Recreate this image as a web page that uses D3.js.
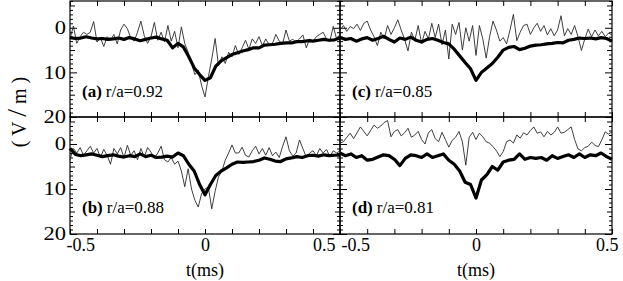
<!DOCTYPE html>
<html>
<head>
<meta charset="utf-8">
<script src="https://cdn.jsdelivr.net/npm/d3@7"></script>
<style>
  body { margin: 0; background: #fff; }
  svg text { font-family: "Liberation Serif", "Times New Roman", Times, serif; fill: #000; }
</style>
</head>
<body>
<svg id="chart" width="623" height="281"></svg>
<script>
// time grids (ms)
const tThick = d3.range(51).map(i => -0.5 + i * 0.02)
const tThin = d3.range(81).map(i => -0.5 + i * 0.0125)

// (a) r/a=0.92
const thickA = [2.2,2.4,2.3,2.0,2.3,2.5,2.4,2.6,2.5,2.3,2.6,2.2,2.5,2.9,2.6,2.3,2.1,2.5,
  2.8,4.5,3.5,4.3,6.5,9.0,10.5,11.8,
  11.2,8.6,7.4,6.7,6.0,5.6,5.2,4.9,4.5,4.5,3.9,3.8,3.7,3.5,3.4,3.4,3.1,3.1,2.9,3.0,2.8,2.6,2.8,2.7,2.3]
const thinA = [2.5,-0.4,3.5,2.0,1.0,1.5,1.0,-1.4,3.2,2.2,4.2,2.0,2.8,1.5,3.6,0.5,-0.8,0.2,2.3,3.0,
  1.0,-1.5,1.8,3.5,2.0,-1.2,2.8,1.0,3.2,-0.5,3.0,0.8,4.5,-0.2,3.5,5.5,8.0,10.5,9.5,13.0,
  15.5,11.0,7.0,2.4,8.5,6.5,8.0,5.5,6.5,4.0,6.0,4.5,2.8,4.8,2.5,3.5,2.0,4.0,2.5,3.8,
  3.5,1.5,3.0,3.6,0.5,3.0,2.6,3.2,2.5,1.6,4.5,2.5,3.0,2.0,1.5,1.0,2.5,3.0,-0.3,2.5,1.5]

// (b) r/a=0.88
const thickB = [1.0,2.3,2.6,2.4,2.2,2.5,2.8,2.6,2.4,2.7,2.9,2.6,2.8,2.2,2.8,2.5,3.0,2.9,
  2.7,2.9,2.0,2.6,4.5,6.0,9.0,11.3,
  9.0,7.0,6.0,5.3,4.5,4.0,4.1,4.0,3.9,3.6,3.1,3.4,3.8,3.9,3.3,3.1,2.8,3.0,2.6,2.5,2.7,2.4,2.6,2.5,2.5]
const thinB = [3.5,1.0,2.0,0.8,2.5,1.5,0.5,2.0,1.0,3.0,1.2,2.5,4.5,1.0,2.2,0.8,3.0,0.3,2.5,1.5,
  3.5,1.0,2.8,0.8,1.8,3.2,2.0,0.5,3.5,4.0,3.0,4.5,3.8,6.0,9.5,5.5,10.0,12.5,14.0,11.0,
  10.0,9.6,14.4,10.5,7.3,6.0,3.6,2.0,0.2,2.0,2.0,0.7,2.5,2.9,1.5,0.5,2.2,1.0,2.5,0.8,
  2.6,1.8,3.0,0.5,-1.6,1.5,2.7,2.0,-0.9,1.0,2.9,2.0,1.5,2.6,1.0,2.0,1.2,2.8,1.5,2.0,1.5]

// (c) r/a=0.85
const thickC = [2.2,2.6,2.4,3.0,2.5,2.2,2.8,2.4,1.9,2.6,3.2,2.3,2.6,2.1,2.8,3.2,2.6,2.4,
  2.8,3.3,3.6,4.8,6.3,7.8,9.2,11.8,
  10.0,9.0,8.0,6.6,5.0,4.4,4.2,4.9,4.6,4.1,3.9,3.8,3.6,3.5,3.3,3.4,2.8,2.6,2.3,2.4,2.3,2.5,2.2,2.4,3.0]
const thinC = [0.5,-0.5,0.8,-0.3,0.2,-0.8,0.6,-1.0,-1.5,0.5,2.0,4.0,1.0,2.5,-0.5,1.5,0.0,-1.8,0.5,2.6,
  5.2,1.0,2.8,-0.5,3.5,0.8,2.5,-1.0,2.2,-0.8,3.8,0.5,7.0,-0.8,1.5,-1.2,5.0,0.0,3.0,-0.5,
  6.2,-0.5,2.5,6.8,2.0,-1.5,0.5,3.0,2.2,3.6,0.5,-3.0,2.9,1.0,-0.5,-0.8,1.5,0.0,-1.0,0.8,
  -0.5,1.6,0.2,1.8,0.5,-2.7,1.8,0.2,1.5,-0.5,2.0,5.1,2.5,0.3,2.0,0.5,1.8,0.8,2.0,1.2,1.6]

// (d) r/a=0.81
const thickD = [2.0,2.6,2.2,3.0,2.6,3.6,3.4,2.9,2.4,2.6,3.4,4.8,3.2,2.4,2.6,3.0,2.2,3.0,
  2.6,2.2,3.6,4.5,6.0,8.5,9.0,12.0,
  8.0,6.8,5.0,5.8,4.0,3.6,3.4,2.2,3.4,3.0,3.2,3.0,3.6,2.6,3.2,2.8,2.4,3.0,2.2,3.0,2.4,2.6,2.0,2.8,3.4]
const thinD = [-0.2,-0.5,-1.5,-2.4,-1.2,-2.5,-3.8,-2.8,-1.8,-3.0,-4.2,-3.5,-4.0,-4.8,-5.2,-1.6,-2.8,-3.2,-1.8,-2.5,
  -3.5,-1.5,-2.0,-2.8,-1.0,0.0,-2.5,-3.2,-1.2,-0.5,-2.6,-1.0,0.7,-0.8,-1.5,-2.8,-0.5,4.7,-1.5,-2.6,
  -1.0,-2.4,-1.6,-0.5,-0.2,0.6,1.5,2.8,1.7,-0.5,-0.9,-0.2,-2.0,-1.3,-2.5,-2.0,-3.0,-3.8,-2.4,-2.7,
  -1.6,-2.8,-2.0,-2.6,-3.8,-2.4,-2.6,-3.2,-3.8,-1.0,1.1,1.5,0.8,0.5,-0.4,0.3,0.6,-0.9,-2.7,-2.2,-2.7]

const panelKeys = ["(a)", "(b)", "(c)", "(d)"]
const ratios = ["r/a=0.92", "r/a=0.88", "r/a=0.85", "r/a=0.81"]
const yLabels = [0, 10, 20]
const xLabels = [-0.5, 0, 0.5]

const serif = '"Liberation Serif", "Times New Roman", Times, serif'
const cols = [[70, 340], [340, 612]]
const rows = [[1, 117], [117, 234]]

const panels = [
  {key: panelKeys[0], ratio: ratios[0], thick: thickA, thin: thinA, col: 0, row: 0},
  {key: panelKeys[1], ratio: ratios[1], thick: thickB, thin: thinB, col: 0, row: 1},
  {key: panelKeys[2], ratio: ratios[2], thick: thickC, thin: thinC, col: 1, row: 0},
  {key: panelKeys[3], ratio: ratios[3], thick: thickD, thin: thinD, col: 1, row: 1}
]

const svg = d3.select("#chart")

// stretch text horizontally the way the reference looks
function widen(sel, k) {
  sel.each(function() {
    const w = this.getComputedTextLength()
    d3.select(this).attr("textLength", w * k).attr("lengthAdjust", "spacingAndGlyphs")
  })
}

const tickLen = d => d % 10 === 0 ? 7 : (d % 5 === 0 ? 5 : 3)

panels.forEach(p => {
  const [x0, x1] = cols[p.col]
  const [y0, y1] = rows[p.row]
  const x = d3.scaleLinear().domain([-0.5, 0.5]).range([x0, x1])
  const y = d3.scaleLinear().domain([-6, 20]).range([y0, y1])
  const g = svg.append("g")

  // inward ticks on all four sides
  const yTicks = d3.range(-6, 21)
  g.append("g").attr("transform", `translate(${x0},0)`)
    .call(d3.axisRight(y).tickValues(yTicks).tickFormat(""))
    .call(a => a.select(".domain").remove())
    .call(a => a.selectAll(".tick line").attr("x2", d => tickLen(d)))
  g.append("g").attr("transform", `translate(${x1},0)`)
    .call(d3.axisLeft(y).tickValues(yTicks).tickFormat(""))
    .call(a => a.select(".domain").remove())
    .call(a => a.selectAll(".tick line").attr("x2", d => -tickLen(d)))
  const xTicks = d3.range(-5, 6).map(d => d / 10)
  g.append("g").attr("transform", `translate(0,${y0})`)
    .call(d3.axisBottom(x).tickValues(xTicks).tickFormat("").tickSize(5))
    .call(a => a.select(".domain").remove())
  g.append("g").attr("transform", `translate(0,${y1})`)
    .call(d3.axisTop(x).tickValues(xTicks).tickFormat("").tickSize(5))
    .call(a => a.select(".domain").remove())

  g.append("rect")
    .attr("x", x0).attr("y", y0)
    .attr("width", x1 - x0).attr("height", y1 - y0)
    .attr("fill", "none").attr("stroke", "#000").attr("stroke-width", 1.2)

  const lineThin = d3.line().x((d, i) => x(tThin[i])).y(d => y(d))
  const lineThick = d3.line().x((d, i) => x(tThick[i])).y(d => y(d))

  g.append("path").datum(p.thin)
    .attr("d", lineThin)
    .attr("fill", "none").attr("stroke", "#2a2a2a").attr("stroke-width", 0.9)
  g.append("path").datum(p.thick)
    .attr("d", lineThick)
    .attr("fill", "none").attr("stroke", "#000").attr("stroke-width", 3.2)
    .attr("stroke-linejoin", "round")

  const lab = g.append("text")
    .attr("x", x0 + 12).attr("y", y0 + 96)
    .style("font-family", serif)
    .style("font-size", "17px")
  lab.append("tspan").style("font-weight", "bold").text(p.key)
  lab.append("tspan").attr("dx", 4).text(p.ratio)

  if (p.col === 0) {
    g.append("g").attr("transform", `translate(${x0},0)`)
      .call(d3.axisLeft(y).tickValues(yLabels).tickSize(0).tickPadding(4))
      .call(a => a.select(".domain").remove())
      .call(a => a.selectAll("text").style("font-family", serif).style("font-size", "18px").call(widen, 1.25))
  }
  if (p.row === 1) {
    g.append("g").attr("transform", `translate(0,${y1})`)
      .call(d3.axisBottom(x).tickValues(xLabels).tickSize(0).tickPadding(4)
        .tickFormat(d => d === 0 ? "0" : String(d)))
      .call(a => a.select(".domain").remove())
      .call(a => a.selectAll("text")
        .style("font-family", serif).style("font-size", "18px")
        .attr("text-anchor", d => d < 0 ? "start" : (d > 0 ? "end" : "middle"))
        .attr("dx", d => d < 0 ? (p.col === 0 ? -4 : 1) : (d > 0 ? (p.col === 0 ? -5 : 6) : 0)))

    svg.append("text")
      .attr("x", x(0)).attr("y", 276)
      .attr("text-anchor", "middle")
      .style("font-family", serif)
      .style("font-size", "18px")
      .text("t(ms)")
  }
})

// y axis title
const yt = svg.append("text")
  .attr("transform", "translate(26,112) rotate(-90)")
  .attr("text-anchor", "middle")
  .style("font-family", serif)
  .style("font-size", "20px")
yt.append("tspan").text("( V ")
yt.append("tspan").style("font-size", "28px").text("/")
yt.append("tspan").text(" m )")
</script>
</body>
</html>
